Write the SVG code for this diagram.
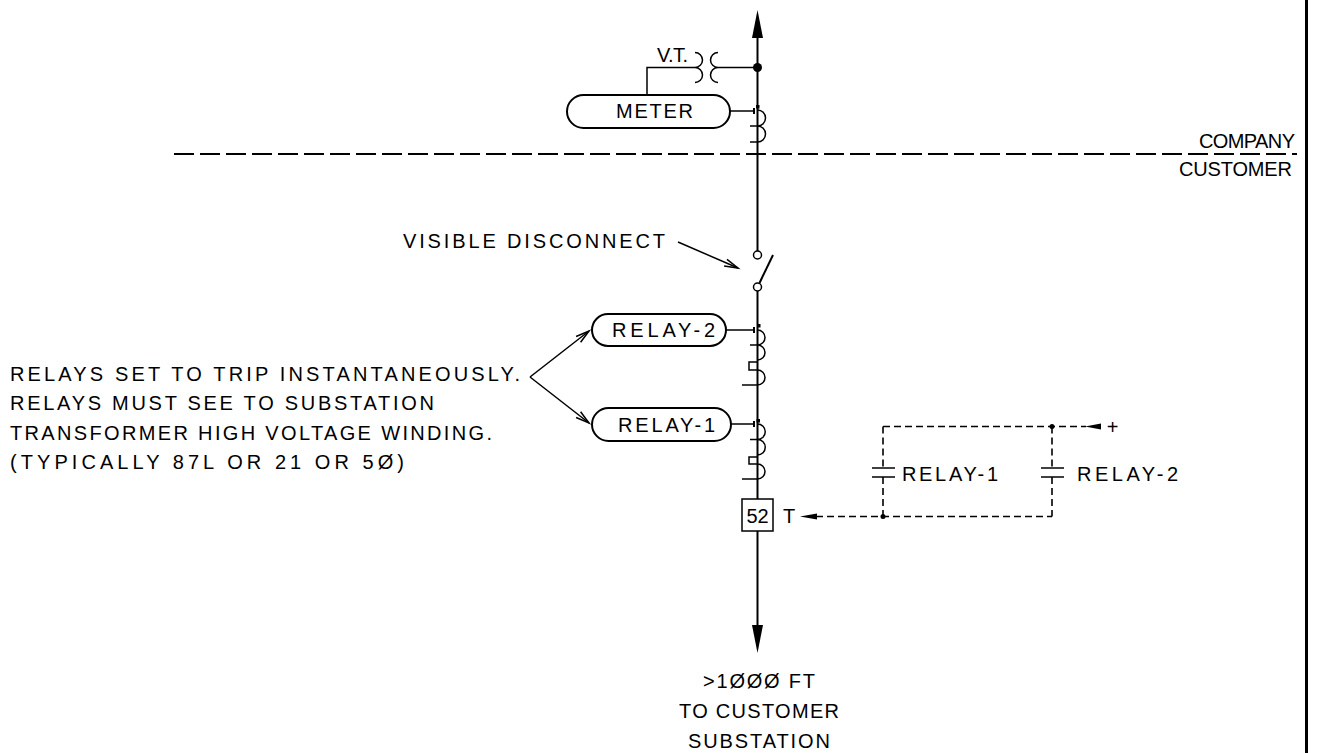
<svg xmlns="http://www.w3.org/2000/svg" width="1318" height="753" viewBox="0 0 1318 753">
<style>
.t{font-family:"Liberation Sans",Arial,sans-serif;fill:#000;font-size:20px}
.ln{stroke:#000;stroke-width:2;fill:none}
.thin{stroke:#000;stroke-width:1.5;fill:none}
.dash{stroke:#000;stroke-width:1.6;fill:none;stroke-dasharray:7 4}
.pill{stroke:#000;stroke-width:2;fill:#fff}
</style>
<rect width="1318" height="753" fill="#fff"/>
<g id="connectors">
  <line class="ln" x1="757.5" y1="36" x2="757.5" y2="251"/>
  <line class="ln" x1="757.5" y1="291" x2="757.5" y2="499"/>
  <line class="ln" x1="757.5" y1="531" x2="757.5" y2="627"/>
  <polygon points="757.5,10 752,38 763,38" fill="#000"/>
  <polygon points="757.5,653 752,625 763,625" fill="#000"/>
  <line x1="174" y1="154" x2="1297" y2="154" stroke="#000" stroke-width="2" stroke-dasharray="20 6"/>
  <line x1="1306.5" y1="0" x2="1306.5" y2="753" stroke="#000" stroke-width="3"/>
  <polyline class="thin" points="647,95 647,67.5 695,67.5"/>
  <line class="thin" x1="718" y1="67.5" x2="757.5" y2="67.5"/>
  <circle cx="757.5" cy="67.5" r="4.5" fill="#000"/>
  <line class="thin" x1="678" y1="242" x2="738" y2="268"/>
  <polyline class="thin" points="727,259.3 738,268 724.1,266"/>
  <line class="thin" x1="530" y1="377" x2="589" y2="331"/>
  <polyline class="thin" points="576.1,336.5 589,331 580.6,342.2"/>
  <line class="thin" x1="530" y1="377" x2="589" y2="423"/>
  <polyline class="thin" points="576.1,417.5 589,423 580.6,411.8"/>
  <line class="dash" x1="816" y1="516.5" x2="1052" y2="516.5"/>
  <polygon points="800,516.5 817,513.5 817,519.5" fill="#000"/>
  <line class="dash" x1="883" y1="426.5" x2="1086" y2="426.5"/>
  <polygon points="1085,426.5 1101,423.5 1101,429.5" fill="#000"/>
  <line class="dash" x1="883" y1="426.5" x2="883" y2="468"/>
  <line class="dash" x1="883" y1="477" x2="883" y2="516.5"/>
  <line class="dash" x1="1052" y1="426.5" x2="1052" y2="468"/>
  <line class="dash" x1="1052" y1="477" x2="1052" y2="516.5"/>
  <circle cx="883" cy="516.5" r="2.5" fill="#000"/>
  <circle cx="1052" cy="426.5" r="2.5" fill="#000"/>
</g>
<g id="vt">
  <path class="thin" d="M695,52.5 a7.5,7.5 0 0 1 0,15 a7.5,7.5 0 0 1 0,15"/>
  <path class="thin" d="M718,52.5 a7.5,7.5 0 0 0 0,15 a7.5,7.5 0 0 0 0,15"/>
  <text class="t" x="657" y="62" font-size="16" textLength="31">V.T.</text>
</g>
<g id="meter">
  <rect class="pill" x="567" y="95" width="163" height="33" rx="16.5"/>
  <text class="t" x="616" y="118" font-size="21" textLength="77">METER</text>
  <line class="thin" x1="730" y1="111" x2="755" y2="111"/>
  <line class="ln" x1="754" y1="108" x2="754" y2="114"/>
  <rect x="756" y="105" width="3.5" height="3.5" fill="#000"/>
  <path class="thin" d="M757.5,110 a8,8 0 0 1 0,16 a8,8 0 0 1 0,16"/>
  <line class="thin" x1="750" y1="126" x2="757.5" y2="126"/>
  <line class="thin" x1="750" y1="142" x2="757.5" y2="142"/>
</g>
<g id="company-customer">
  <text class="t" x="1199" y="148" textLength="96">COMPANY</text>
  <text class="t" x="1179" y="176" textLength="113">CUSTOMER</text>
</g>
<g id="disconnect">
  <circle class="thin" cx="757.5" cy="255" r="4" fill="#fff"/>
  <circle class="thin" cx="757.5" cy="287" r="4" fill="#fff"/>
  <line class="ln" x1="759.5" y1="283" x2="773" y2="255"/>
  <text class="t" x="403" y="248" textLength="262">VISIBLE DISCONNECT</text>
</g>
<g id="relay-2">
  <rect class="pill" x="592" y="314" width="134" height="32" rx="16"/>
  <text class="t" x="612" y="337" textLength="103">RELAY-2</text>
  <line class="thin" x1="726" y1="330" x2="755" y2="330"/>
  <line class="ln" x1="754" y1="327" x2="754" y2="333"/>
  <rect x="757" y="324" width="3.5" height="3.5" fill="#000"/>
  <path class="thin" d="M757.5,330 a7.5,7.5 0 0 1 0,15 a7.5,7.5 0 0 1 0,15"/>
  <line class="thin" x1="750" y1="345" x2="757.5" y2="345"/>
  <polyline class="thin" points="757.5,362 749,362 749,370 757.5,370"/>
  <path class="thin" d="M757.5,370 a7.5,7.5 0 0 1 0,15"/>
  <line class="thin" x1="742" y1="385" x2="757.5" y2="385"/>
</g>
<g id="relay-1">
  <rect class="pill" x="592" y="408" width="139" height="33" rx="16.5"/>
  <text class="t" x="618" y="432" textLength="97">RELAY-1</text>
  <line class="thin" x1="731" y1="424" x2="755" y2="424"/>
  <line class="ln" x1="754" y1="421" x2="754" y2="427"/>
  <rect x="756.5" y="419" width="3.5" height="3.5" fill="#000"/>
  <path class="thin" d="M757.5,424 a7.5,7.5 0 0 1 0,15.5 a7.5,7.5 0 0 1 0,15.5"/>
  <line class="thin" x1="750" y1="439.5" x2="757.5" y2="439.5"/>
  <polyline class="thin" points="757.5,457 749,457 749,464 757.5,464"/>
  <path class="thin" d="M757.5,464 a7.5,7.5 0 0 1 0,15"/>
  <line class="thin" x1="742" y1="479" x2="757.5" y2="479"/>
</g>
<g id="note">
  <text class="t" x="10" y="381" font-size="19" textLength="510">RELAYS SET TO TRIP INSTANTANEOUSLY.</text>
  <text class="t" x="10" y="410" font-size="19" textLength="424">RELAYS MUST SEE TO SUBSTATION</text>
  <text class="t" x="10" y="440" font-size="19" textLength="482">TRANSFORMER HIGH VOLTAGE WINDING.</text>
  <text class="t" x="10" y="469" font-size="19" textLength="394">(TYPICALLY 87L OR 21 OR 5Ø)</text>
</g>
<g id="breaker-52">
  <rect x="742" y="499" width="31" height="32" fill="#fff" stroke="#000" stroke-width="1.5"/>
  <text class="t" x="757.5" y="523" font-size="19" text-anchor="middle">52</text>
  <text class="t" x="783" y="523" font-size="19">T</text>
</g>
<g id="contact-relay-1">
  <line class="thin" x1="872" y1="468" x2="895" y2="468"/>
  <line class="thin" x1="872" y1="477" x2="895" y2="477"/>
  <text class="t" x="902" y="481" textLength="96">RELAY-1</text>
</g>
<g id="contact-relay-2">
  <line class="thin" x1="1041" y1="468" x2="1064" y2="468"/>
  <line class="thin" x1="1041" y1="477" x2="1064" y2="477"/>
  <text class="t" x="1077" y="481" textLength="101">RELAY-2</text>
</g>
<g id="plus">
  <text class="t" x="1112.5" y="434" font-size="23" text-anchor="middle">+</text>
</g>
<g id="destination">
  <text class="t" x="759" y="688" text-anchor="middle" textLength="112">&gt;1ØØØ FT</text>
  <text class="t" x="759" y="718" text-anchor="middle" textLength="160">TO CUSTOMER</text>
  <text class="t" x="759" y="748" text-anchor="middle" textLength="142">SUBSTATION</text>
</g>
</svg>
